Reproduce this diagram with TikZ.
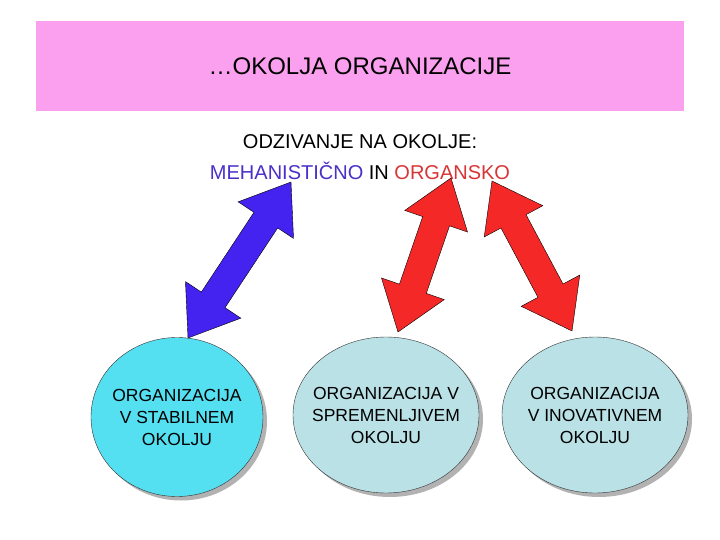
\documentclass[tikz,border=0pt]{standalone}
\usepackage{fontspec}
\setmainfont{Liberation Sans}
\usetikzlibrary{positioning,shapes.geometric,shapes.arrows,calc,shadows}

\definecolor{titlepink}{HTML}{FAA0EE}
\definecolor{stablecyan}{HTML}{55E0F2}
\definecolor{paleblue}{HTML}{B9E1E6}
\definecolor{mehblue}{HTML}{4A2FC8}
\definecolor{orgred}{HTML}{D83535}
\definecolor{arrowblue}{HTML}{4422F0}
\definecolor{arrowred}{HTML}{F52828}

\begin{document}
\begin{tikzpicture}[
        x=1pt, y=-1pt,
        banner/.style={
                rectangle,
                fill=titlepink,
                minimum width=648pt,
                minimum height=90pt,
                font=\fontsize{24}{28}\selectfont
            },
        heading/.style={font=\fontsize{20}{24}\selectfont},
        environment/.style={
                ellipse,
                draw=black!80,
                thin,
                minimum width=186pt,
                minimum height=156pt,
                inner xsep=-12pt,
                inner ysep=0pt,
                align=center,
                font=\fontsize{17.5}{22}\selectfont,
                general shadow={fill=black!30, shadow xshift=4pt, shadow yshift=-4pt}
            },
        link/.style={
                double arrow,
                draw=black,
                thin,
                inner xsep=0pt,
                inner ysep=14pt,
                double arrow head extend=19pt,
                double arrow tip angle=72
            }
    ]
    \useasboundingbox (0,0) rectangle (720,540);

    \node[banner] (title) at (360,66) {\dots OKOLJA ORGANIZACIJE};

    \node[heading] (response) at (360,142) {ODZIVANJE NA OKOLJE:};
    \node[heading] (styles) at (360,171)
        {\textcolor{mehblue}{MEHANISTIČNO} IN \textcolor{orgred}{ORGANSKO}};

    \node[environment, fill=stablecyan, minimum width=172pt, minimum height=159pt] (stable) at (177,417)
        {ORGANIZACIJA\\V STABILNEM\\OKOLJU};
    \node[environment, fill=paleblue] (changing) at (386,415)
        {ORGANIZACIJA V\\SPREMENLJIVEM\\OKOLJU};
    \node[environment, fill=paleblue] (innovative) at (595,415)
        {ORGANIZACIJA\\V INOVATIVNEM\\OKOLJU};

    % arrow ends
    \coordinate (mehTop) at (291,182);
    \coordinate (mehBot) at (188,338);
    \coordinate (orgTopA) at (451,178);
    \coordinate (orgBotA) at (398,332);
    \coordinate (orgTopB) at (492,181);
    \coordinate (orgBotB) at (572,331);

    \foreach \a/\b/\c in {mehBot/mehTop/arrowblue, orgBotA/orgTopA/arrowred, orgBotB/orgTopB/arrowred} {
        \path let \p1=($(\b)-(\a)$), \n1={atan2(\y1,\x1)}, \n2={veclen(\x1,\y1)} in
            node[link, fill=\c, rotate=\n1, minimum height=\n2] at ($(\a)!0.5!(\b)$) {};
    }
\end{tikzpicture}
\end{document}
